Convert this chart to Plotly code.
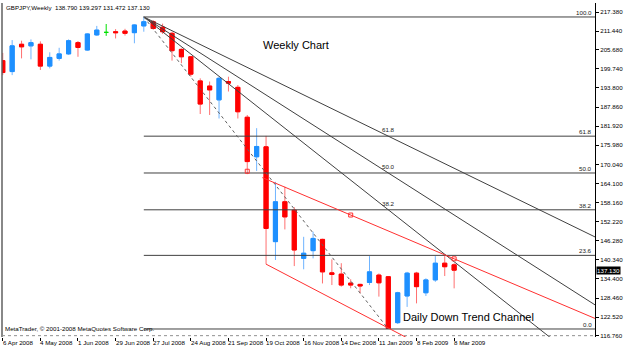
import plotly.graph_objects as go

# ---------------- data ----------------
bars = list(range(49))  # weekly bars, bar 0 = week of 6 Apr 2008
opens = [202.3, 198.9, 207.4, 206.9, 207.4, 200.6, 203.0, 204.4, 207.9, 205.6,
         210.3, 211.1, 211.3, 211.5, 211.0, 213.1, 214.4, 212.7, 210.8, 205.8,
         203.5, 196.0, 194.4, 190.1, 195.8, 194.0, 184.7, 172.4, 175.5, 146.0,
         158.4, 155.8, 140.8, 143.2, 146.7, 136.3, 135.9, 133.1, 132.7, 133.3,
         135.6, 135.1, 120.8, 129.1, 136.2, 130.1, 134.1, 139.3, 138.79]
highs = [204.7, 208.7, 208.5, 208.9, 208.3, 204.9, 206.3, 208.9, 208.4, 210.8,
         213.1, 213.7, 212.1, 212.2, 213.6, 215.88, 214.9, 213.8, 211.3, 206.1,
         203.7, 196.8, 195.8, 197.3, 197.3, 194.7, 185.4, 181.3, 178.9, 164.6,
         163.1, 156.7, 147.5, 149.1, 146.9, 140.5, 139.3, 134.3, 132.9, 141.5,
         136.1, 135.3, 130.4, 136.6, 136.6, 134.6, 141.5, 141.5, 139.297]
lows = [197.8, 197.8, 203.0, 202.7, 199.4, 199.9, 202.3, 204.1, 203.5, 205.4,
        210.0, 210.0, 209.2, 210.1, 207.7, 211.3, 211.9, 210.6, 202.3, 201.5,
        197.3, 185.7, 185.4, 184.3, 192.7, 184.3, 167.0, 168.0, 139.0, 140.3,
        149.8, 138.4, 137.4, 140.8, 133.0, 132.5, 132.0, 131.5, 129.9, 132.5,
        128.9, 118.83, 120.4, 125.7, 126.8, 129.1, 133.5, 135.3, 131.472]
closes = [198.6, 206.9, 206.6, 207.9, 200.6, 203.3, 204.4, 208.5, 206.4, 210.6,
          211.8, 211.1, 211.0, 210.8, 213.4, 214.4, 212.3, 211.3, 205.4, 203.5,
          198.1, 188.8, 193.2, 196.8, 195.3, 186.4, 170.9, 175.6, 150.1, 158.4,
          153.7, 143.4, 142.4, 147.0, 136.6, 135.8, 132.5, 132.5, 132.2, 136.6,
          133.2, 119.0, 130.1, 136.2, 132.0, 134.1, 139.3, 138.2, 137.13]

date_tick_bars = [0, 4, 8, 12, 16, 20, 24, 28, 32, 36, 40, 44, 48]
date_tick_labels = ["6 Apr 2008", "4 May 2008", "1 Jun 2008", "29 Jun 2008",
                    "27 Jul 2008", "24 Aug 2008", "21 Sep 2008", "19 Oct 2008",
                    "16 Nov 2008", "14 Dec 2008", "11 Jan 2009", "8 Feb 2009",
                    "8 Mar 2009"]
price_ticks = [217.380, 211.440, 205.680, 199.740, 193.800, 187.860, 181.920,
               175.980, 170.040, 164.100, 158.160, 152.220, 146.280, 140.340,
               134.400, 128.460, 122.520, 116.760]

fib_levels = [0.0, 23.6, 38.2, 50.0, 61.8, 100.0]
fan_levels = [38.2, 50.0, 61.8]

channel_upper_bars = [26, 48]
channel_upper_prices = [167.9, 140.66]
channel_upper_marks = [26, 37, 48]
channel_lower_bars = [28, 42]
channel_lower_prices = [139.0, 117.6]

last_price = 137.13
header = "GBPJPY,Weekly  138.790 139.297 131.472 137.130"

# ---------------- geometry ----------------
X0, X1 = -0.08, 62.98
Y0, Y1 = 116.34, 220.23

hi_bar = max(bars, key=lambda i: highs[i])
lo_bar = min(bars, key=lambda i: lows[i])
H = highs[hi_bar]
L = lows[lo_bar]

fig = go.Figure()

BULL, BEAR, DOJI = "#1E90FF", "#FF0000", "#00E000"
BULL_W, BEAR_W = "#6fb4ff", "#ff7070"
SMALL = 6.2

main = [i for i in bars if i != 11]
dj = [11]

def pick(arr, idx):
    return [arr[i] for i in idx]

# wicks (lighter)
fig.add_trace(go.Candlestick(
    x=main, open=pick(opens, main), high=pick(highs, main), low=pick(lows, main),
    close=pick(closes, main),
    increasing=dict(line=dict(color=BULL_W, width=1), fillcolor=BULL_W),
    decreasing=dict(line=dict(color=BEAR_W, width=1), fillcolor=BEAR_W),
    hoverinfo="skip", showlegend=False))
# bodies
fig.add_trace(go.Candlestick(
    x=main, open=pick(opens, main),
    high=[max(opens[i], closes[i]) for i in main],
    low=[min(opens[i], closes[i]) for i in main],
    close=pick(closes, main),
    increasing=dict(line=dict(color=BULL, width=1), fillcolor=BULL),
    decreasing=dict(line=dict(color=BEAR, width=1), fillcolor=BEAR),
    hoverinfo="skip", showlegend=False))
# doji (green)
fig.add_trace(go.Candlestick(
    x=dj, open=pick(opens, dj), high=pick(highs, dj), low=pick(lows, dj),
    close=pick(closes, dj),
    increasing=dict(line=dict(color=DOJI, width=1), fillcolor=DOJI),
    decreasing=dict(line=dict(color=DOJI, width=1), fillcolor=DOJI),
    hoverinfo="skip", showlegend=False))

# fibo retracement levels
for lv in fib_levels:
    p = L + lv / 100.0 * (H - L)
    fig.add_trace(go.Scatter(x=[hi_bar, X1], y=[p, p], mode="lines",
                             line=dict(color="#404040", width=1),
                             hoverinfo="skip", showlegend=False))
    fig.add_annotation(x=1, xref="paper", y=p, yref="y", text="%.1f" % lv,
                       showarrow=False, xanchor="right", yanchor="bottom",
                       xshift=-1, yshift=-1,
                       font=dict(family="Liberation Sans", size=SMALL, color="#202020"))

# fibo fan
for lv in fan_levels:
    p = L + lv / 100.0 * (H - L)
    slope = (p - H) / (lo_bar - hi_bar)
    fig.add_trace(go.Scatter(x=[hi_bar, X1], y=[H, H + slope * (X1 - hi_bar)],
                             mode="lines", line=dict(color="#404040", width=1),
                             hoverinfo="skip", showlegend=False))
    fig.add_annotation(x=lo_bar, y=p, text="%.1f" % lv, showarrow=False,
                       xanchor="center", yanchor="bottom", yshift=1,
                       font=dict(family="Liberation Sans", size=SMALL, color="#202020"))

# dotted trend line between fibo anchors
fig.add_trace(go.Scatter(x=[hi_bar, lo_bar], y=[H, L], mode="lines",
                         line=dict(color="#606060", width=1, dash="dot"),
                         hoverinfo="skip", showlegend=False))

# red channel
us = (channel_upper_prices[1] - channel_upper_prices[0]) / (channel_upper_bars[1] - channel_upper_bars[0])
def upper(xv):
    return channel_upper_prices[0] + us * (xv - channel_upper_bars[0])
ux0 = 27.6
fig.add_trace(go.Scatter(x=[ux0, X1], y=[upper(ux0), upper(X1)], mode="lines",
                         line=dict(color="#FF3030", width=1),
                         hoverinfo="skip", showlegend=False))
fig.add_trace(go.Scatter(x=channel_upper_marks, y=[upper(b) for b in channel_upper_marks],
                         mode="markers",
                         marker=dict(symbol="square-open", size=4, color="#FF3030",
                                     line=dict(width=1, color="#FF3030")),
                         hoverinfo="skip", showlegend=False))
ls = (channel_lower_prices[1] - channel_lower_prices[0]) / (channel_lower_bars[1] - channel_lower_bars[0])
lx1 = 46
fig.add_trace(go.Scatter(x=[channel_lower_bars[0], lx1],
                         y=[channel_lower_prices[0], channel_lower_prices[0] + ls * (lx1 - channel_lower_bars[0])],
                         mode="lines", line=dict(color="#FF3030", width=1),
                         hoverinfo="skip", showlegend=False))

# date labels (left aligned at tick, MT4 style)
for b, t in zip(date_tick_bars, date_tick_labels):
    fig.add_annotation(x=b, xref="x", y=0, yref="paper", text=t, showarrow=False,
                       xanchor="left", yanchor="top", xshift=-2, yshift=0,
                       font=dict(family="Liberation Sans", size=SMALL, color="#000000"))

# current price label
fig.add_annotation(x=1, xref="paper", y=last_price, yref="y", text="%.3f" % last_price,
                   showarrow=False, xanchor="left", yanchor="middle", xshift=1,
                   bgcolor="#000000", borderpad=0,
                   font=dict(family="Liberation Sans", size=SMALL, color="#FFFFFF"))

fig.add_annotation(x=0.003, xref="paper", y=0.988, yref="paper", text=header,
                   showarrow=False, xanchor="left", yanchor="middle",
                   font=dict(family="Liberation Sans", size=SMALL, color="#000000"))
fig.add_annotation(x=0.002, xref="paper", y=0.026, yref="paper",
                   text="MetaTrader, © 2001-2008 MetaQuotes Software Corp.",
                   showarrow=False, xanchor="left", yanchor="middle",
                   font=dict(family="Liberation Sans", size=SMALL, color="#000000"))
fig.add_annotation(x=0.496, xref="paper", y=0.874, yref="paper", text="Weekly Chart",
                   showarrow=False, xanchor="center", yanchor="middle",
                   font=dict(family="Liberation Sans", size=11, color="#000000"))
fig.add_annotation(x=0.787, xref="paper", y=0.060, yref="paper",
                   text="Daily Down Trend Channel",
                   showarrow=False, xanchor="center", yanchor="middle",
                   font=dict(family="Liberation Sans", size=11, color="#000000"))

# frame
fig.add_shape(type="line", xref="paper", yref="paper", x0=0, x1=0, y0=0, y1=1,
              line=dict(color="#606060", width=1.5))
fig.add_shape(type="line", xref="paper", yref="paper", x0=0, x1=1, y0=0.004, y1=0.004,
              line=dict(color="#909090", width=1, dash="dot"))

fig.update_layout(
    width=625, height=348,
    margin=dict(l=2, r=22, t=3, b=11),
    paper_bgcolor="#FFFFFF", plot_bgcolor="#FFFFFF",
    showlegend=False, boxgap=0.37,
    xaxis=dict(range=[X0, X1], showgrid=False, zeroline=False,
               rangeslider=dict(visible=False), tickvals=date_tick_bars,
               showticklabels=False, ticks="outside", ticklen=3,
               tickcolor="#000000", showline=False, fixedrange=True),
    yaxis=dict(range=[Y0, Y1], side="right", showgrid=False, zeroline=False,
               tickvals=price_ticks, ticktext=["%.3f" % v for v in price_ticks],
               ticks="outside", ticklen=3, tickcolor="#000000",
               showline=True, linecolor="#000000", linewidth=1,
               tickfont=dict(family="Liberation Sans", size=SMALL, color="#000000"),
               fixedrange=True),
)

fig.write_html("out.html")
